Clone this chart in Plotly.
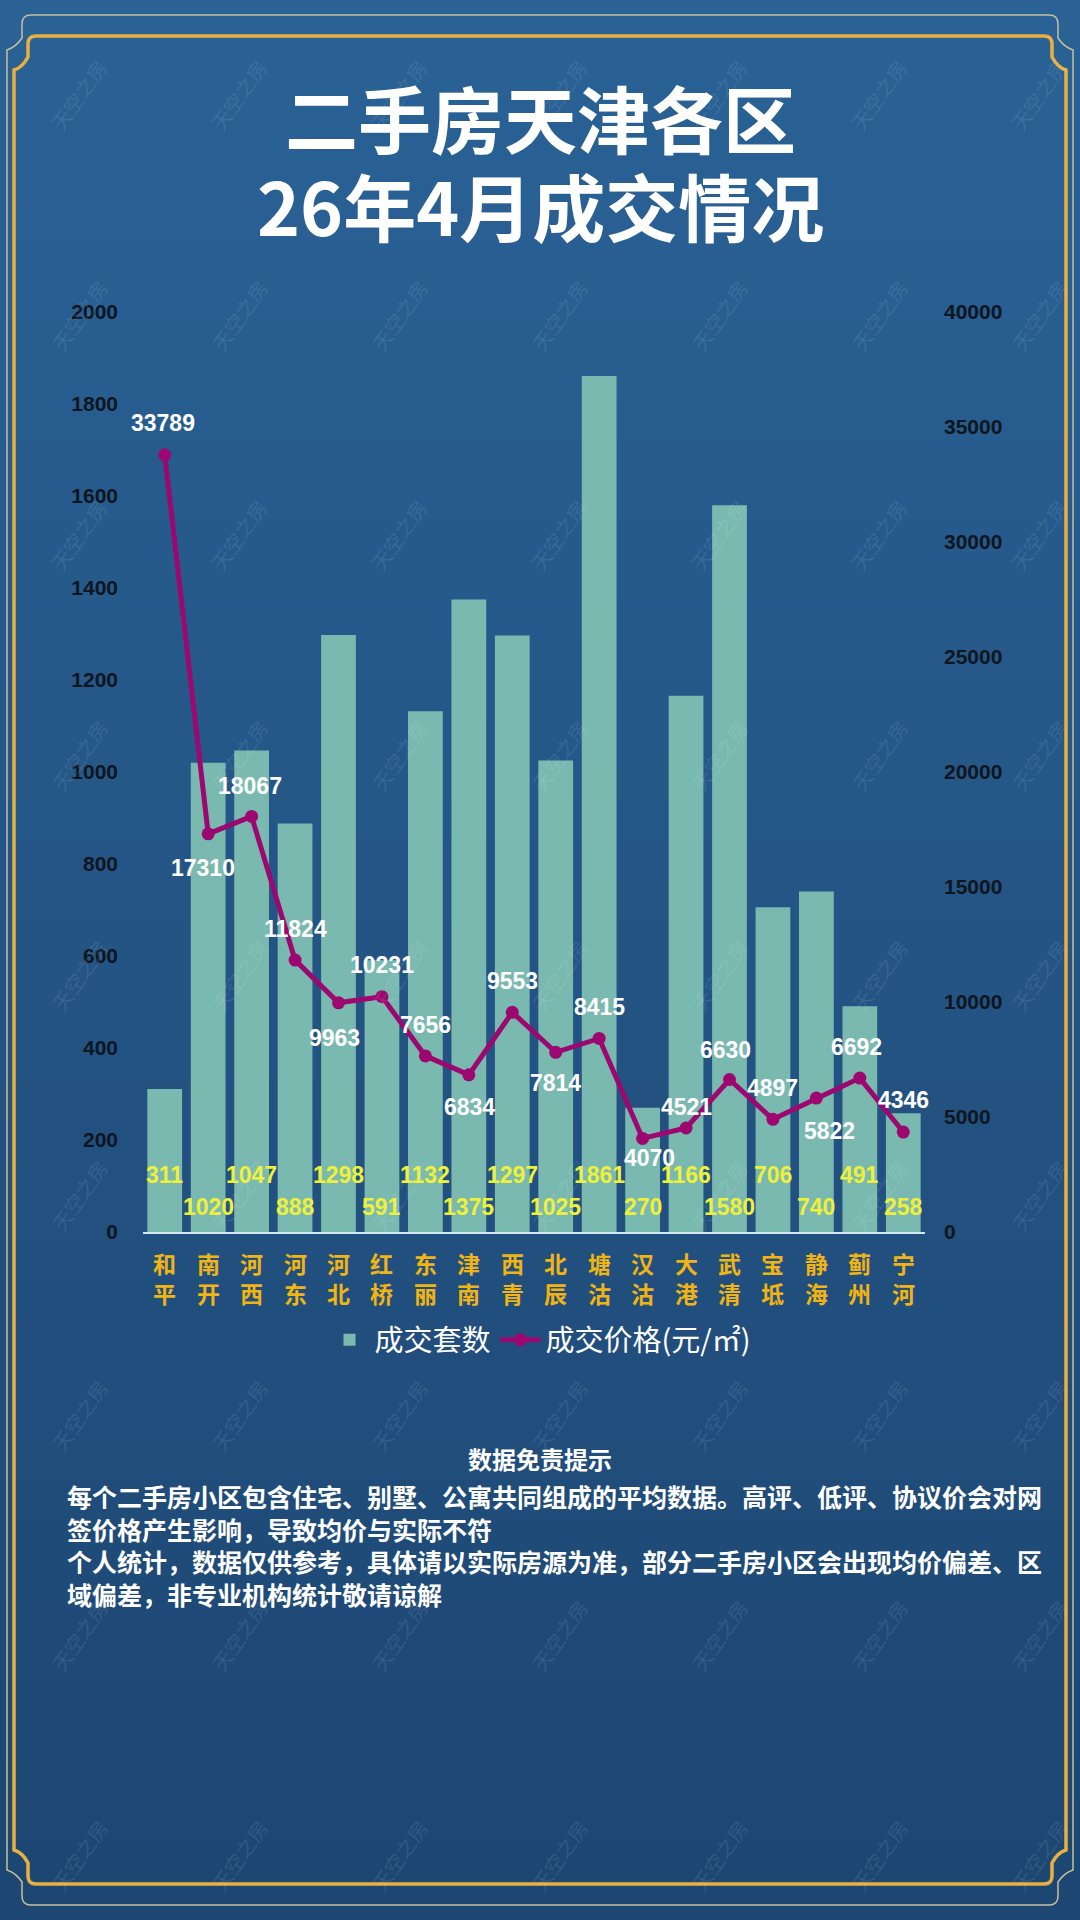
import plotly.graph_objects as go

# 天津各区二手房 26年4月成交
districts = ["和平", "南开", "河西", "河东", "河北", "红桥", "东丽", "津南", "西青",
             "北辰", "塘沽", "汉沽", "大港", "武清", "宝坻", "静海", "蓟州", "宁河"]
deal_counts = [311, 1020, 1047, 888, 1298, 591, 1132, 1375, 1297,
               1025, 1861, 270, 1166, 1580, 706, 740, 491, 258]
deal_prices = [33789, 17310, 18067, 11824, 9963, 10231, 7656, 6834, 9553,
               7814, 8415, 4070, 4521, 6630, 4897, 5822, 6692, 4346]

title_lines = ["二手房天津各区", "26年4月成交情况"]
notice_title = "数据免责提示"
notice_lines = [
    "每个二手房小区包含住宅、别墅、公寓共同组成的平均数据。高评、低评、协议价会对网",
    "签价格产生影响，导致均价与实际不符",
    "个人统计，数据仅供参考，具体请以实际房源为准，部分二手房小区会出现均价偏差、区",
    "域偏差，非专业机构统计敬请谅解",
]

W, H = 1080, 1920
NUM_FONT = "Liberation Sans, Arial, sans-serif"
CJK_FONT = "Noto Sans CJK SC, sans-serif"

# label offsets for the price line (pixels, +up)
price_dx = [-2, -5, -2, 0, -4, 0, 0, 1, 0, 0, 0, 7, 0, -4, 0, 13, -3, 0]
price_dy = [32, -34, 30, 31, -35, 32, 31, -32, 31, -31, 31, -20, 21, 30, 31, -33, 31, 32]


def px(x):
    return x / W


def py(y):
    return 1 - y / H


fig = go.Figure()

fig.add_trace(go.Bar(
    x=districts, y=deal_counts, name="成交套数",
    marker=dict(color="#7ab9b0", line=dict(width=0)),
    yaxis="y",
))
fig.add_trace(go.Scatter(
    x=districts, y=deal_prices, name="成交价格(元/㎡)",
    mode="lines+markers",
    line=dict(color="#9c0870", width=5),
    marker=dict(color="#9c0870", size=13),
    yaxis="y2",
))

annotations = []

# count labels, staggered in two rows
for i, (d, c) in enumerate(zip(districts, deal_counts)):
    annotations.append(dict(
        x=d, y=124 if i % 2 == 0 else 54, xref="x", yref="y",
        text=str(c), showarrow=False, xanchor="center", yanchor="middle",
        font=dict(family=NUM_FONT, size=23, color="#eef03a", weight="bold"),
    ))

# price labels
for i, (d, p) in enumerate(zip(districts, deal_prices)):
    annotations.append(dict(
        x=d, y=p, xref="x", yref="y2",
        text=str(p), showarrow=False, xanchor="center", yanchor="middle",
        xshift=price_dx[i], yshift=price_dy[i],
        font=dict(family=NUM_FONT, size=23, color="white", weight="bold"),
    ))

# district names, stacked vertically
for d in districts:
    annotations.append(dict(
        x=d, y=py(1278), xref="x", yref="paper",
        text="<br>".join(d), showarrow=False, xanchor="center", yanchor="middle",
        font=dict(family=CJK_FONT, size=23, color="#f0b414", weight="bold"),
    ))

# watermark
for r in range(9):
    for c in range(7):
        annotations.append(dict(
            x=px(79 + 160 * c), y=py(95 + 220 * r), xref="paper", yref="paper",
            text="天空之房", showarrow=False, textangle=-55,
            xanchor="center", yanchor="middle",
            font=dict(family=CJK_FONT, size=20, color="rgba(255,255,255,0.10)"),
        ))

# title
for k, line in enumerate(title_lines):
    annotations.append(dict(
        x=0.5, y=py(116 + 88 * k), xref="paper", yref="paper",
        text=line, showarrow=False, xanchor="center", yanchor="middle",
        font=dict(family=CJK_FONT, size=73, color="white", weight="bold"),
    ))

# disclaimer
annotations.append(dict(
    x=0.5, y=py(1458), xref="paper", yref="paper",
    text=notice_title, showarrow=False, xanchor="center", yanchor="middle",
    font=dict(family=CJK_FONT, size=24, color="white", weight="bold"),
))
annotations.append(dict(
    x=px(65), y=py(1476), xref="paper", yref="paper",
    text="<br>".join(notice_lines), showarrow=False,
    xanchor="left", yanchor="top", align="left",
    font=dict(family=CJK_FONT, size=25, color="white", weight="bold"),
))

shapes = []
# background gradient bands
top_rgb = (42, 98, 150)
bot_rgb = (29, 70, 114)
n_bands = 48
for b in range(n_bands):
    t = b / (n_bands - 1)
    col = tuple(int(round(top_rgb[j] + (bot_rgb[j] - top_rgb[j]) * t)) for j in range(3))
    shapes.append(dict(
        type="rect", xref="paper", yref="paper", layer="below",
        x0=0, x1=1, y0=py((b + 1) * H / n_bands + 1), y1=py(b * H / n_bands),
        fillcolor="rgb(%d,%d,%d)" % col, line=dict(width=0),
    ))


def frame_path(pts):
    cmds = []
    for p in pts:
        op = p[0]
        coords = " ".join("%.5f,%.5f" % (px(x), py(y)) for x, y in p[1:])
        cmds.append(op + " " + coords)
    return " ".join(cmds) + " Z"


thick = [
    ("M", (14, 70)), ("Q", (22, 68), (28, 57)), ("L", (28, 44)), ("Q", (28, 36), (36, 36)),
    ("L", (1044, 36)), ("Q", (1052, 36), (1052, 44)), ("L", (1052, 57)), ("Q", (1058, 68), (1066, 70)),
    ("L", (1066, 1850)), ("Q", (1058, 1852), (1052, 1863)), ("L", (1052, 1876)), ("Q", (1052, 1884), (1044, 1884)),
    ("L", (36, 1884)), ("Q", (28, 1884), (28, 1876)), ("L", (28, 1863)), ("Q", (22, 1852), (14, 1850)),
]
thin = [
    ("M", (7, 50)), ("Q", (16, 47), (22, 38)), ("L", (22, 24)), ("Q", (22, 15), (31, 15)),
    ("L", (1049, 15)), ("Q", (1058, 15), (1058, 24)), ("L", (1058, 38)), ("Q", (1064, 47), (1073, 50)),
    ("L", (1073, 1870)), ("Q", (1064, 1873), (1058, 1882)), ("L", (1058, 1896)), ("Q", (1058, 1905), (1049, 1905)),
    ("L", (31, 1905)), ("Q", (22, 1905), (22, 1896)), ("L", (22, 1882)), ("Q", (16, 1873), (7, 1870)),
]
shapes.append(dict(type="path", xref="paper", yref="paper", layer="below",
                   path=frame_path(thin), line=dict(color="#c4c09c", width=1.5)))
shapes.append(dict(type="path", xref="paper", yref="paper", layer="below",
                   path=frame_path(thick), line=dict(color="#e8b040", width=3.5)))

tick_font = dict(family=NUM_FONT, size=21, color="#0e1620", weight="bold")

fig.update_layout(
    width=W, height=H,
    margin=dict(l=0, r=0, t=0, b=0, autoexpand=False),
    paper_bgcolor="#265c92",
    plot_bgcolor="rgba(0,0,0,0)",
    bargap=0.2,
    annotations=annotations,
    shapes=shapes,
    showlegend=True,
    legend=dict(
        orientation="h", x=0.5, xanchor="center", y=py(1340), yanchor="middle",
        font=dict(family=CJK_FONT, size=29, color="white"),
        bgcolor="rgba(0,0,0,0)", itemwidth=40,
    ),
    xaxis=dict(
        domain=[px(143), px(925)],
        range=[-0.5, len(districts) - 0.5], autorange=False,
        showticklabels=False,
        showline=True, linecolor="#d5e6f0", linewidth=2,
        showgrid=False, ticks="", automargin=False,
    ),
    yaxis=dict(
        domain=[py(1232), py(312)],
        range=[0, 2000], dtick=200,
        showgrid=False, zeroline=False, showline=False,
        tickfont=tick_font, ticklabelstandoff=24, automargin=False,
    ),
    yaxis2=dict(
        overlaying="y", side="right",
        range=[0, 40000], dtick=5000, tickformat="d",
        showgrid=False, zeroline=False, showline=False,
        tickfont=tick_font, ticklabelstandoff=18, automargin=False,
    ),
)

# page body has a default 8px margin; drop it so the figure sits at 0,0
fig.write_html("out.html", config={"displayModeBar": False},
               post_script="document.body.style.margin='0';")
